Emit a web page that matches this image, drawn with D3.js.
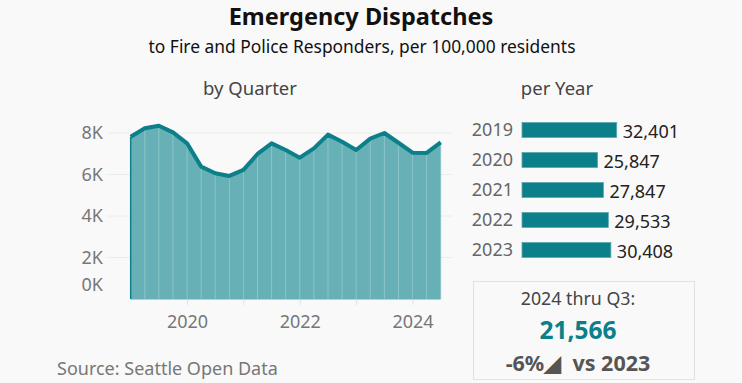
<!DOCTYPE html>
<html><head><meta charset="utf-8">
<script src="https://cdn.jsdelivr.net/npm/d3@7"></script>
<style>
html,body{margin:0;padding:0;background:#f9f9f9;}
svg{display:block;font-family:"Noto Sans",sans-serif;}
</style></head>
<body><svg id="c" width="742" height="383"></svg>
<script>
const quarters = ["2019 Q1","2019 Q2","2019 Q3","2019 Q4","2020 Q1","2020 Q2","2020 Q3","2020 Q4","2021 Q1","2021 Q2","2021 Q3","2021 Q4","2022 Q1","2022 Q2","2022 Q3","2022 Q4","2023 Q1","2023 Q2","2023 Q3","2023 Q4","2024 Q1","2024 Q2","2024 Q3"];
const quarterValues = [7820,8230,8350,8030,7500,6380,6060,5930,6220,6990,7500,7180,6810,7260,7920,7580,7180,7730,8000,7530,7050,7040,7550];
const years = ["2019","2020","2021","2022","2023"];
const yearValues = [32401,25847,27847,29533,30408];
const yTicks = [0,2000,4000,6000,8000];
const xTicks = [2020,2021,2022,2023,2024];
const ytdLabel = "2024 thru Q3:";
const ytdValue = 21566;
const ytdChange = "-6%\u25E2  vs 2023";

const svg = d3.select("#c");
const teal = "#0b7f8a";

// titles
svg.append("text").attr("x",361).attr("y",25).attr("text-anchor","middle")
  .attr("font-size",23.5).attr("font-weight","bold").attr("fill","#111").text("Emergency Dispatches");
svg.append("text").attr("x",362).attr("y",53).attr("text-anchor","middle")
  .attr("font-size",17.4).attr("fill","#111").text("to Fire and Police Responders, per 100,000 residents");
svg.append("text").attr("x",250).attr("y",95).attr("text-anchor","middle")
  .attr("font-size",18.5).attr("fill","#444").text("by Quarter");
svg.append("text").attr("x",557).attr("y",95).attr("text-anchor","middle")
  .attr("font-size",18.5).attr("fill","#444").text("per Year");

// area chart
const qx = quarters.map(q => +q.slice(0,4) + (+q.slice(6)-1)/4);
const data = quarters.map((q,i)=>({x:qx[i], v:quarterValues[i]}));
const x = d3.scaleLinear().domain([2019, 2024.5]).range([130.7, 440.7]);
const y = d3.scaleLinear().domain([0, 8000]).range([299, 133]);

const g = svg.append("g");
g.selectAll("line.grid").data(yTicks.filter(d=>d>0)).join("line")
  .attr("x1",107).attr("x2",452).attr("y1",d=>y(d)).attr("y2",d=>y(d))
  .attr("stroke","#ececec").attr("stroke-width",1);

g.selectAll("text.yl").data(yTicks).join("text")
  .attr("x",103).attr("y",d=> d===0 ? y(d)-14 : y(d)).attr("dy","0.35em")
  .attr("text-anchor","end").attr("font-size",18).attr("fill","#777")
  .text(d=>d3.format("d")(d/1000)+"K");

g.append("path").datum(data)
  .attr("d", d3.area().x(d=>x(d.x)).y0(y(0)).y1(d=>y(d.v)))
  .attr("fill","#66b0b6");
g.selectAll("line.vl").data(data).join("line")
  .attr("x1",d=>x(d.x)).attr("x2",d=>x(d.x)).attr("y1",y(0)).attr("y2",d=>y(d.v))
  .attr("stroke","#8cc5c9").attr("stroke-width",1);
g.append("line").attr("x1",x(2019)).attr("x2",x(2019)).attr("y1",y(0)).attr("y2",y(quarterValues[0]))
  .attr("stroke",teal).attr("stroke-width",1.5);
g.append("line").attr("x1",x(2019)).attr("x2",x(2024.5)).attr("y1",y(0)+0.5).attr("y2",y(0)+0.5)
  .attr("stroke","#a9d3d6").attr("stroke-width",1);
g.append("path").datum(data)
  .attr("d", d3.line().x(d=>x(d.x)).y(d=>y(d.v)).curve(d3.curveLinear))
  .attr("fill","none").attr("stroke",teal).attr("stroke-width",4).attr("stroke-linejoin","round");

const xa = svg.append("g").attr("transform",`translate(0,${y(0)+1})`)
  .call(d3.axisBottom(x).tickValues(xTicks).tickSize(5).tickPadding(10)
    .tickFormat(d => d%2===0 ? d3.format("d")(d) : ""));
xa.select(".domain").remove();
xa.selectAll("line").attr("stroke","#e4e4e4");
xa.selectAll("text").attr("font-size",18).attr("fill","#777").attr("font-family","Noto Sans, sans-serif");

svg.append("text").attr("x",57).attr("y",375).attr("font-size",18).attr("fill","#777")
  .text("Source: Seattle Open Data");

// bar chart
const bx = d3.scaleLinear().domain([0, 32401]).range([522, 616.7]);
const by = d3.scaleBand().domain(years).range([115, 265]).paddingInner(0.5).paddingOuter(0.25);
const bg = svg.append("g");
bg.selectAll("rect").data(years).join("rect")
  .attr("x",bx(0)).attr("y",d=>by(d)).attr("height",by.bandwidth())
  .attr("width",(d,i)=>bx(yearValues[i])-bx(0))
  .attr("fill",teal).attr("stroke","#5aa9b0").attr("stroke-width",0.8);
bg.selectAll("text.yr").data(years).join("text")
  .attr("x",513).attr("y",d=>by(d)+by.bandwidth()/2).attr("dy","0.36em")
  .attr("text-anchor","end").attr("font-size",18).attr("fill","#666").text(d=>d);
bg.selectAll("text.val").data(years).join("text")
  .attr("x",(d,i)=>bx(yearValues[i])+6).attr("y",d=>by(d)+by.bandwidth()/2+2).attr("dy","0.36em")
  .attr("font-size",18).attr("fill","#222").text((d,i)=>d3.format(",")(yearValues[i]));

// summary box
svg.append("rect").attr("x",473.5).attr("y",281.5).attr("width",221).attr("height",98)
  .attr("fill","#f9f9f9").attr("stroke","#e2e2e2");
svg.append("text").attr("x",578).attr("y",305).attr("text-anchor","middle")
  .attr("font-size",17.8).attr("fill","#444").text(ytdLabel);
svg.append("text").attr("x",578).attr("y",339).attr("text-anchor","middle")
  .attr("font-size",24.5).attr("font-weight","bold").attr("fill",teal).text(d3.format(",")(ytdValue));
svg.append("text").attr("x",578).attr("y",371).attr("text-anchor","middle")
  .attr("font-size",21.5).attr("font-weight","bold").attr("fill","#555").attr("xml:space","preserve")
  .style("white-space","pre").text(ytdChange);
</script></body></html>
